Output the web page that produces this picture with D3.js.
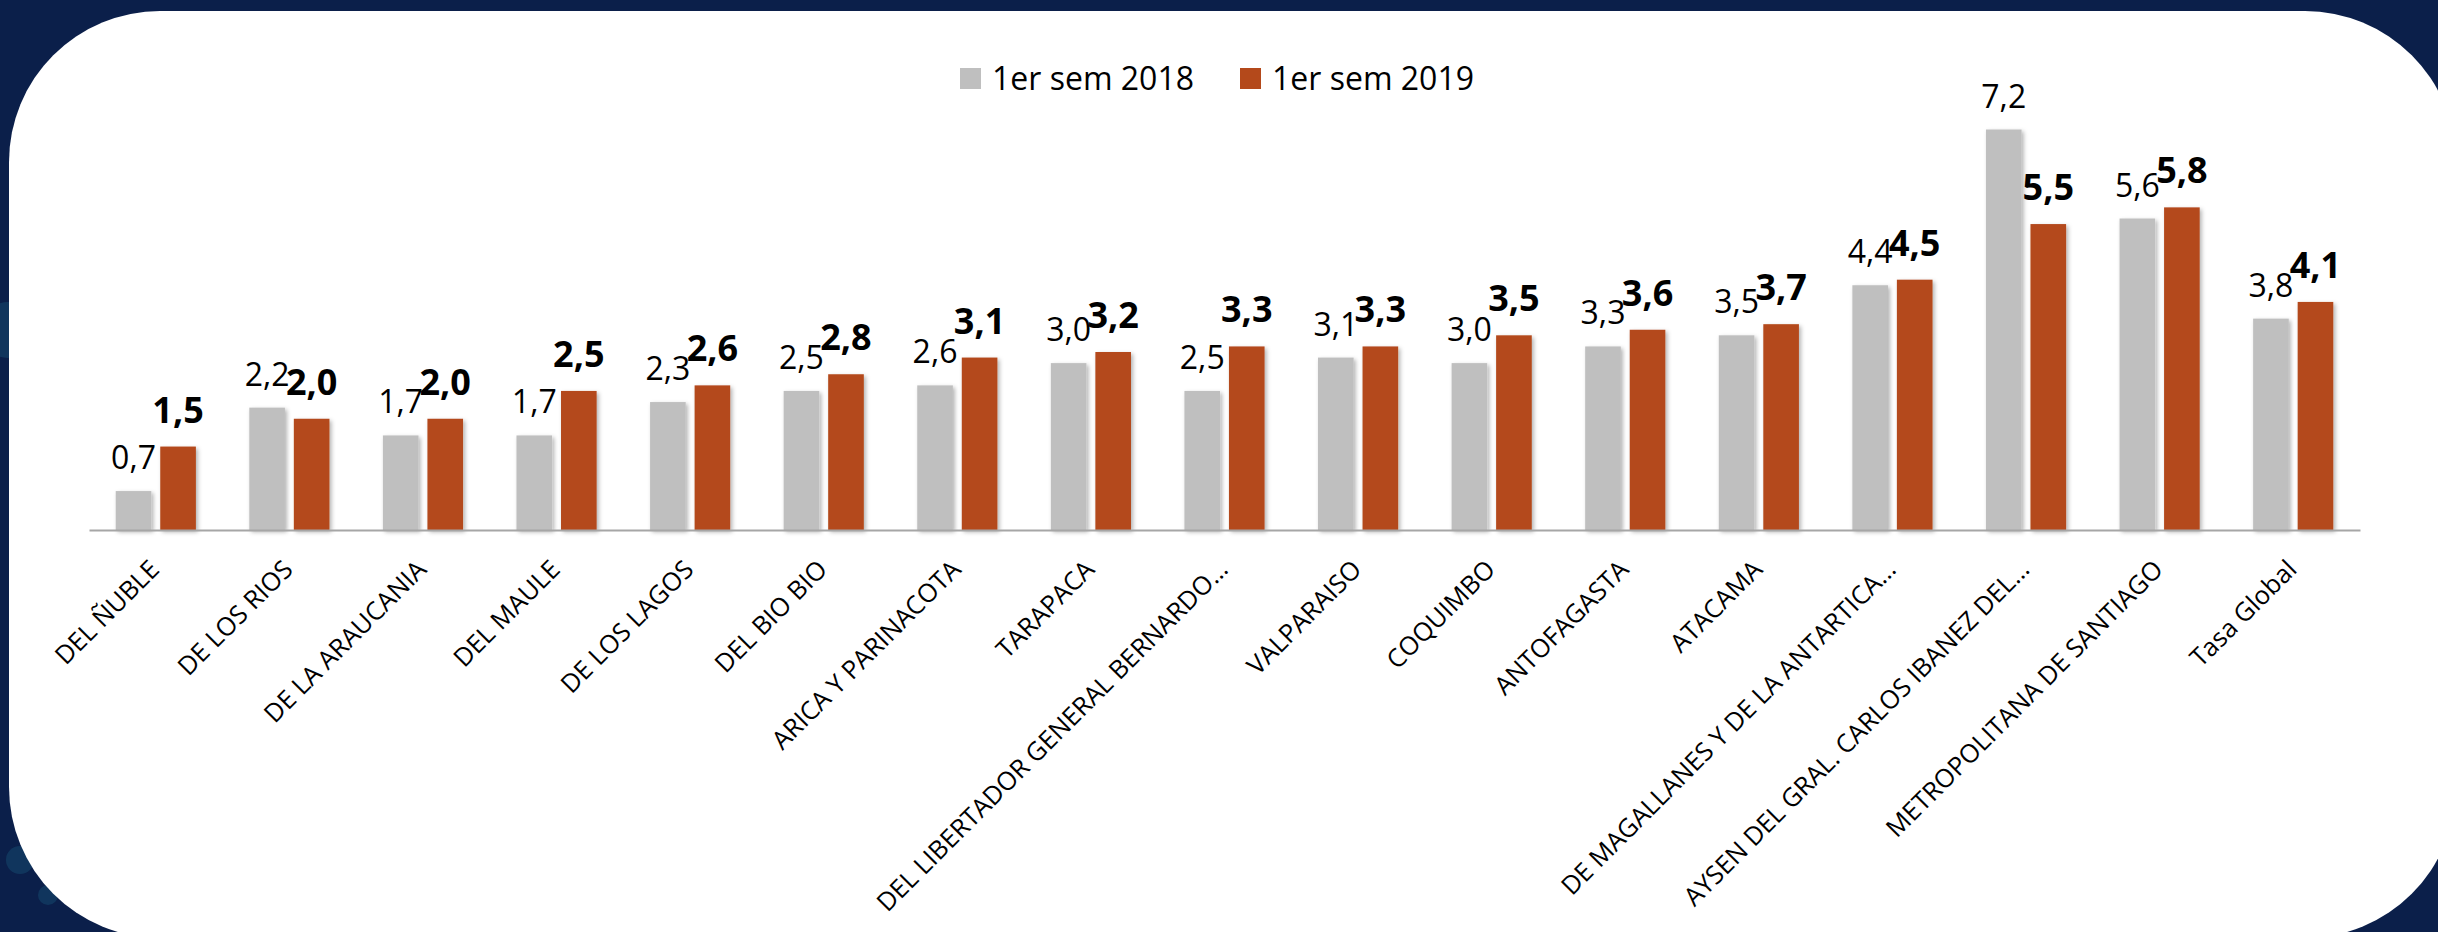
<!DOCTYPE html>
<html>
<head>
<meta charset="utf-8">
<script src="https://cdn.jsdelivr.net/npm/d3@7"></script>
<style>
  html, body { margin: 0; padding: 0; background: #0b1f4a; overflow: hidden; }
  svg { display: block; font-family: "Open Sans", "Noto Sans", sans-serif; }
</style>
</head>
<body>
<div id="chart"></div>
<script>
const regions = [
  'DEL ÑUBLE', 'DE LOS RIOS', 'DE LA ARAUCANIA', 'DEL MAULE', 'DE LOS LAGOS',
  'DEL BIO BIO', 'ARICA Y PARINACOTA', 'TARAPACA', 'DEL LIBERTADOR GENERAL BERNARDO…',
  'VALPARAISO', 'COQUIMBO', 'ANTOFAGASTA', 'ATACAMA', 'DE MAGALLANES Y DE LA ANTARTICA…',
  'AYSEN DEL GRAL. CARLOS IBANEZ DEL…', 'METROPOLITANA DE SANTIAGO', 'Tasa Global'
];
const seriesNames = ['1er sem 2018', '1er sem 2019'];
const sem2018 = [0.7, 2.2, 1.7, 1.7, 2.3, 2.5, 2.6, 3.0, 2.5, 3.1, 3.0, 3.3, 3.5, 4.4, 7.2, 5.6, 3.8];
const sem2019 = [1.5, 2.0, 2.0, 2.5, 2.6, 2.8, 3.1, 3.2, 3.3, 3.3, 3.5, 3.6, 3.7, 4.5, 5.5, 5.8, 4.1];

const width = 2438, height = 932;
const colors = { '1er sem 2018': '#bfbfbf', '1er sem 2019': '#b4491b' };

const rows = regions.map((r, i) => ({ region: r, values: [
  { key: seriesNames[0], v: sem2018[i] },
  { key: seriesNames[1], v: sem2019[i] }
]}));

const svg = d3.select('#chart').append('svg').attr('width', width).attr('height', height);

// background panel
svg.append('rect').attr('width', width).attr('height', height).attr('fill', '#0b1f4a');
[[8, 330, 28], [20, 860, 14], [48, 895, 10]].forEach(([cx, cy, r]) => {
  svg.append('circle').attr('cx', cx).attr('cy', cy).attr('r', r)
    .attr('fill', '#1e6a8a').attr('opacity', 0.3);
});
svg.append('rect').attr('x', 9).attr('y', 11).attr('width', 2447).attr('height', 927)
  .attr('rx', 151).attr('ry', 151).attr('fill', '#ffffff');

const defs = svg.append('defs');
defs.append('filter').attr('id', 'shadow').attr('x', '-20%').attr('y', '-10%').attr('width', '150%').attr('height', '130%')
  .append('feDropShadow').attr('dx', 2).attr('dy', 2).attr('stdDeviation', 2)
  .attr('flood-color', '#000').attr('flood-opacity', 0.3);

const x0 = d3.scaleBand().domain(regions).range([89, 2360]).paddingInner(0.4).paddingOuter(0.2);
const x1 = d3.scaleBand().domain(seriesNames).range([0, x0.bandwidth()]).paddingInner(0.2);
const y = d3.scaleLinear().domain([0, 8]).range([530, 85]);

// bars
const groups = svg.append('g').selectAll('g').data(rows).enter().append('g')
  .attr('transform', d => `translate(${x0(d.region)},0)`);

groups.selectAll('rect').data(d => d.values).enter().append('rect')
  .attr('x', d => x1(d.key))
  .attr('y', d => y(d.v))
  .attr('width', x1.bandwidth())
  .attr('height', d => y(0) - y(d.v))
  .attr('fill', d => colors[d.key])
  .attr('filter', 'url(#shadow)');

// value labels
groups.selectAll('text').data(d => d.values).enter().append('text')
  .attr('x', d => x1(d.key) + x1.bandwidth() / 2)
  .attr('y', d => y(d.v) - (d.key === seriesNames[1] ? 24 : 22))
  .attr('text-anchor', 'middle')
  .attr('font-size', d => d.key === seriesNames[1] ? 36 : 32)
  .attr('font-weight', d => d.key === seriesNames[1] ? 'bold' : 'normal')
  .attr('fill', '#000')
  .text(d => d3.format('.1f')(d.v).replace('.', ','));

// axis
const xAxis = svg.append('g').attr('transform', `translate(0,${y(0)})`)
  .call(d3.axisBottom(x0).tickSize(0).tickPadding(0));
xAxis.select('.domain').attr('stroke', '#a6a6a6').attr('stroke-width', 2);
xAxis.selectAll('.tick text')
  .attr('font-family', '"Open Sans", sans-serif')
  .attr('font-size', 25.5)
  .attr('fill', '#000')
  .attr('text-anchor', 'end')
  .attr('dy', null)
  .attr('y', null)
  .attr('transform', 'translate(5,41) rotate(-45)');

// legend
const legend = svg.append('g');
const legendX = [960, 1240];
seriesNames.forEach((s, i) => {
  legend.append('rect').attr('x', legendX[i]).attr('y', 68).attr('width', 21).attr('height', 21)
    .attr('fill', colors[s]);
  legend.append('text').attr('x', legendX[i] + 32).attr('y', 90)
    .attr('font-size', 32).attr('fill', '#000').text(s);
});
</script>
</body>
</html>
